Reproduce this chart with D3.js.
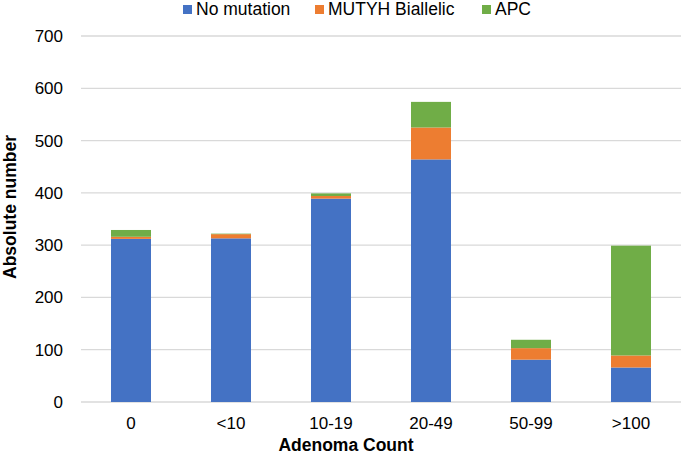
<!DOCTYPE html>
<html>
<head>
<meta charset="utf-8">
<script src="https://cdn.jsdelivr.net/npm/d3@7"></script>
<style>
  body { margin: 0; background: #fff; }
  text { font-family: "Liberation Sans", Arial, sans-serif; fill: #000; }
</style>
</head>
<body>
<svg id="chart"></svg>
<script>
// Data
const categories = ["0", "<10", "10-19", "20-49", "50-99", ">100"];
const noMutation = [312, 313, 389, 464, 81, 66];
const mutyh = [4, 8, 5, 61, 22, 23];
const apc = [13, 1, 5, 49, 16, 210];
const seriesNames = ["No mutation", "MUTYH Biallelic", "APC"];
const seriesColors = ["#4472c4", "#ed7d31", "#70ad47"];
const yTicks = [0, 100, 200, 300, 400, 500, 600, 700];

const W = 685, H = 454;
const margin = { top: 36, right: 4, bottom: 52, left: 81 };
const width = W - margin.left - margin.right;
const height = H - margin.top - margin.bottom;

const root = d3.select("#chart").attr("width", W).attr("height", H);
const svg = root.append("g")
  .attr("transform", "translate(" + margin.left + "," + margin.top + ")");

const rows = categories.map((c, i) => ({
  cat: c,
  "No mutation": noMutation[i],
  "MUTYH Biallelic": mutyh[i],
  "APC": apc[i]
}));
const stacked = d3.stack().keys(seriesNames)(rows);

const x = d3.scaleBand().domain(categories).range([0, 600]).paddingInner(0.6).paddingOuter(0.3);
const y = d3.scaleLinear().domain([0, 700]).range([height, 0]);

// gridlines
svg.append("g")
  .selectAll("line")
  .data(yTicks)
  .enter()
  .append("line")
  .attr("x1", 0)
  .attr("x2", 600)
  .attr("y1", d => y(d))
  .attr("y2", d => y(d))
  .attr("stroke", "#d9d9d9")
  .attr("stroke-width", 1.3);

// y axis labels
const yAxis = svg.append("g")
  .call(d3.axisLeft(y).tickValues(yTicks).tickSize(0).tickPadding(18));
yAxis.select(".domain").remove();
yAxis.selectAll("text").style("font-size", "17px").attr("fill", "#000");

// bars
svg.selectAll(".series")
  .data(stacked)
  .enter()
  .append("g")
  .attr("fill", (d, i) => seriesColors[i])
  .selectAll("rect")
  .data(d => d)
  .enter()
  .append("rect")
  .attr("x", d => x(d.data.cat))
  .attr("width", x.bandwidth())
  .attr("y", d => y(d[1]))
  .attr("height", d => y(d[0]) - y(d[1]));

// x axis
const xAxis = svg.append("g")
  .attr("transform", "translate(0," + height + ")")
  .call(d3.axisBottom(x).tickSize(0).tickPadding(15));
xAxis.select(".domain").remove();
xAxis.selectAll("text").style("font-size", "17px").attr("fill", "#000");

// axis titles
root.append("text")
  .attr("x", 346)
  .attr("y", 451)
  .attr("text-anchor", "middle")
  .style("font-size", "17.5px")
  .style("font-weight", "bold")
  .text("Adenoma Count");

root.append("text")
  .attr("transform", "translate(16,207) rotate(-90)")
  .attr("text-anchor", "middle")
  .style("font-size", "17.5px")
  .style("font-weight", "bold")
  .text("Absolute number");

// legend
const legendX = [183, 315, 482];
const legend = root.append("g");
seriesNames.forEach((name, i) => {
  legend.append("rect")
    .attr("x", legendX[i])
    .attr("y", 5)
    .attr("width", 9)
    .attr("height", 9)
    .attr("fill", seriesColors[i]);
  legend.append("text")
    .attr("x", legendX[i] + 13)
    .attr("y", 15)
    .style("font-size", "17.5px")
    .text(name);
});
</script>
</body>
</html>
